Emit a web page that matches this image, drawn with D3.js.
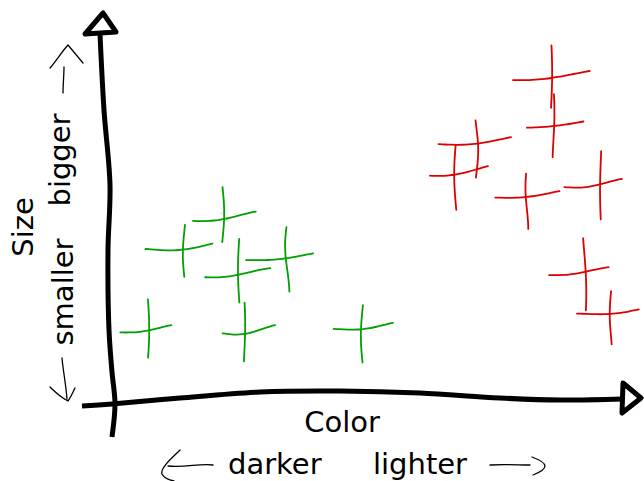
<!DOCTYPE html>
<html>
<head>
<meta charset="utf-8">
<script src="https://cdn.jsdelivr.net/npm/d3@7"></script>
<style>
  body { margin: 0; background: #fff; }
  text { font-family: "DejaVu Sans", sans-serif; font-size: 29px; fill: #000; }
</style>
</head>
<body>
<svg id="chart" width="644" height="481"></svg>
<script>
// darker points (green) and lighter points (red), in 0..100 units on both axes
const greenColor = [22.0, 13.9, 24.7, 34.1, 7.3, 26.1, 48.8];
const greenSize  = [50.3, 41.8, 35.0, 39.3, 19.7, 19.1, 20.2];
const redColor   = [86.3, 86.7, 71.8, 67.1, 81.2, 95.7, 92.9, 97.6];
const redSize    = [88.8, 75.7, 70.8, 62.6, 56.3, 59.3, 35.5, 24.3];

const xLabel = 'Color';
const yLabel = 'Size';

const svg = d3.select('#chart');

const x = d3.scaleLinear().domain([0, 100]).range([112, 622]);
const y = d3.scaleLinear().domain([0, 100]).range([403, 37]);

// small seeded generator, only used for the hand-drawn wobble
function mulberry32(a) {
    return function () {
        a |= 0; a = a + 0x6D2B79F5 | 0;
        let t = Math.imul(a ^ a >>> 15, 1 | a);
        t = t + Math.imul(t ^ t >>> 7, 61 | t) ^ t;
        return ((t ^ t >>> 14) >>> 0) / 4294967296;
    };
}
const rnd = mulberry32(11);

const smooth = d3.line().curve(d3.curveCatmullRom);

// one wobbly arm of a '+' marker
function arm(cx, cy, horizontal) {
    const h = 31;
    const l1 = h * (0.7 + 0.6 * rnd()),
        l2 = h * (0.7 + 0.6 * rnd());
    const a = horizontal ? (1.5 + 2 * rnd()) : (0.8 + 1.6 * rnd()) * (rnd() < 0.5 ? -1 : 1);
    const f = 0.8 + 0.6 * rnd(),
        ph = -0.2 + 0.4 * rnd();
    const mid = a * Math.sin(Math.PI * (f * 0.5 + ph));
    const pts = d3.range(13).map(i => {
        const u = i / 12;
        const t = -l1 + u * (l1 + l2);
        const off = a * Math.sin(Math.PI * (f * u + ph)) - mid;
        return horizontal ? [cx + t, cy + off - (u - 0.5) * 6] : [cx + off, cy + t];
    });
    return smooth(pts);
}

function drawCrosses(xs, ys, color) {
    const g = svg.append('g');
    xs.forEach((v, i) => {
        const cx = x(v), cy = y(ys[i]);
        g.append('path').attr('d', arm(cx, cy, true))
            .attr('fill', 'none').attr('stroke', color)
            .attr('stroke-width', 1.8).attr('stroke-linecap', 'round');
        g.append('path').attr('d', arm(cx, cy, false))
            .attr('fill', 'none').attr('stroke', color)
            .attr('stroke-width', 1.8).attr('stroke-linecap', 'round');
    });
}

// ****************** axes (hand drawn) ******************
const xSpine = [[82, 406], [112, 404], [180, 398], [260, 392], [340, 391],
    [420, 393], [500, 398], [560, 400], [623, 399]];
const ySpine = [[100, 34], [104, 110], [110, 185], [108, 250], [109, 330],
    [112, 372], [115, 404], [112, 437]];

svg.append('path').attr('d', smooth(xSpine))
    .attr('fill', 'none').attr('stroke', '#000').attr('stroke-width', 5).attr('stroke-linecap', 'butt');
svg.append('path').attr('d', smooth(ySpine))
    .attr('fill', 'none').attr('stroke', '#000').attr('stroke-width', 5).attr('stroke-linecap', 'butt');

// arrowheads
svg.append('path').attr('d', 'M103,13 L85,34 L116,32 Z')
    .attr('fill', '#fff').attr('stroke', '#000').attr('stroke-width', 5).attr('stroke-linejoin', 'round');
svg.append('path').attr('d', 'M623,383 L641,398 L622,413 Z')
    .attr('fill', '#fff').attr('stroke', '#000').attr('stroke-width', 5).attr('stroke-linejoin', 'round');

// ****************** points ******************
drawCrosses(greenColor, greenSize, '#00a000');
drawCrosses(redColor, redSize, '#dd0000');

// ****************** labels ******************
svg.append('text').attr('x', 342).attr('y', 432).attr('text-anchor', 'middle').text(xLabel);
svg.append('text').attr('x', 228).attr('y', 474).text('darker');
svg.append('text').attr('x', 373).attr('y', 474).text('lighter');

svg.append('text').attr('transform', 'translate(33,227) rotate(-90)').attr('text-anchor', 'middle').text(yLabel);
svg.append('text').attr('transform', 'translate(73,292) rotate(-90)').attr('text-anchor', 'middle').text('smaller');
svg.append('text').attr('transform', 'translate(70,160) rotate(-90)').attr('text-anchor', 'middle').text('bigger');

// the little sketched arrows next to the words
const arrows = [
    'M213,465 C200,463 185,468 168,466',            // darker shaft
    'M180,450 C172,458 160,468 162,474 C164,478 169,480 174,481', // darker head
    'M490,465 C505,464 518,465 530,465',            // lighter shaft
    'M532,457 C540,460 545,463 545,466 C545,470 538,473 533,475', // lighter head
    'M63,93 C63,85 64,75 64,67',                    // bigger shaft
    'M50,68 C57,60 63,50 68,45 C73,51 78,57 83,63', // bigger head
    'M62,358 C63,370 66,385 67,399',                // smaller shaft
    'M50,387 C55,392 62,398 68,401 C71,397 73,392 75,388' // smaller head
];
svg.append('g').selectAll('path').data(arrows).enter().append('path')
    .attr('d', d => d).attr('fill', 'none').attr('stroke', '#000')
    .attr('stroke-width', 1.3).attr('stroke-linecap', 'round');
</script>
</body>
</html>
